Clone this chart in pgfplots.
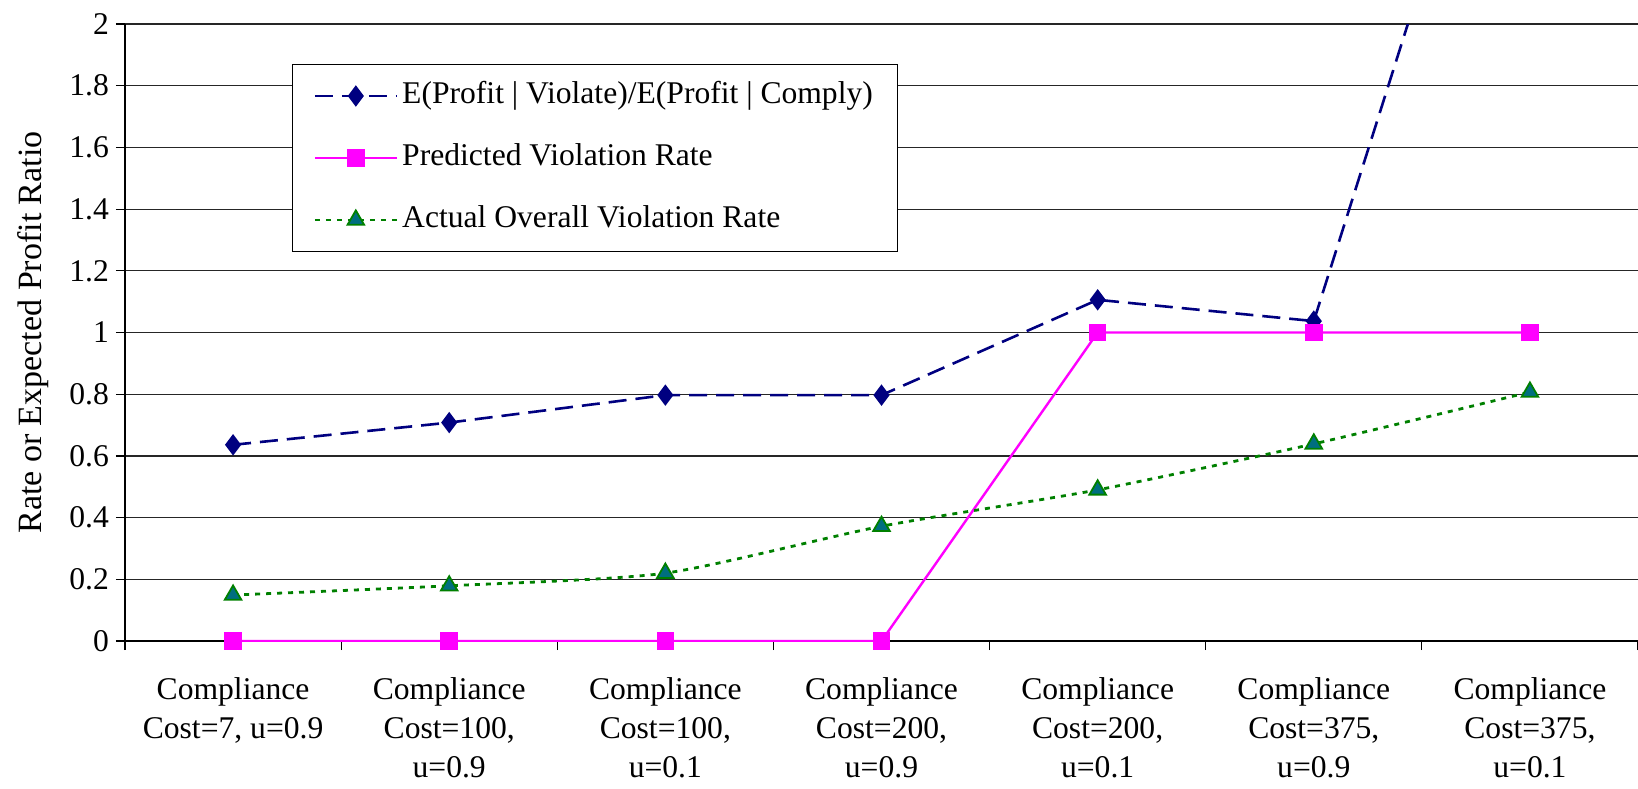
\documentclass[border=0pt]{standalone}
\usepackage{fontspec}
\setmainfont{Liberation Serif}
\usepackage{pgfplots}
\pgfplotsset{compat=1.18}
\definecolor{navyb}{RGB}{0,0,128}
\definecolor{magentap}{RGB}{255,0,255}
\definecolor{greenl}{RGB}{0,128,0}
\definecolor{tealf}{RGB}{0,110,128}
\begin{document}
\begin{tikzpicture}
\begin{axis}[name=ax, scale only axis, width=756.5pt, height=308.5pt,
  xmin=-0.5, xmax=6.5, ymin=0, ymax=2,
  axis lines*=left, axis line style={black, line width=0.6pt},
  ytick={0,0.2,0.4,0.6,0.8,1,1.2,1.4,1.6,1.8,2},
  yticklabels={0,0.2,0.4,0.6,0.8,1,1.2,1.4,1.6,1.8,2},
  ymajorgrids, major grid style={black!85, line width=0.6pt},
  tick align=outside, major tick length=4.5pt, tick style={black, line width=0.6pt},
  xtick={-0.5,0.5,1.5,2.5,3.5,4.5,5.5,6.5}, xticklabels={},
  extra x ticks={0,1,2,3,4,5,6},
  extra x tick labels={{Compliance\\Cost=7, u=0.9},{Compliance\\Cost=100,\\u=0.9},{Compliance\\Cost=100,\\u=0.1},{Compliance\\Cost=200,\\u=0.9},{Compliance\\Cost=200,\\u=0.1},{Compliance\\Cost=375,\\u=0.9},{Compliance\\Cost=375,\\u=0.1}},
  extra x tick style={major tick length=0pt, grid=none},
  xticklabel style={align=center, font=\fontsize{15.8}{19.7}\selectfont, yshift=-14.5pt},
  yticklabel style={font=\fontsize{15.8}{19}\selectfont},
  ylabel={Rate or Expected Profit Ratio},
  ylabel style={font=\fontsize{17}{20}\selectfont, at={(axis description cs:-0.0608,0.5)}, anchor=center},
  legend style={at={(axis description cs:0.1104,0.935)}, anchor=north west, draw=black, thin,
    font=\fontsize{15.8}{19}\selectfont, row sep=12.5pt, inner xsep=10.5pt, inner ysep=6.5pt,
    nodes={inner sep=2pt, text height=11pt, text depth=3.5pt}},
  legend cell align=left,
  legend image code/.code={\draw[mark repeat=2,mark phase=2] plot coordinates {(0pt,0pt) (20.5pt,0pt) (41pt,0pt)};},
  clip mode=individual,
]
\addplot[navyb, line width=1.3pt, dash pattern=on 9pt off 4.5pt, mark=diamond*, mark size=4.3pt, mark options={solid, fill=navyb}]
  coordinates {(0,0.636) (1,0.708) (2,0.797) (3,0.797) (4,1.106) (5,1.037) (6,3.25)};
\addlegendentry{E(Profit | Violate)/E(Profit | Comply)}
\addplot[magentap, line width=1.2pt, mark=square*, mark size=3.8pt, mark options={solid, fill=magentap}]
  coordinates {(0,0) (1,0) (2,0) (3,0) (4,1) (5,1) (6,1)};
\addlegendentry{Predicted Violation Rate}
\addplot[greenl, line width=1.4pt, dash pattern=on 2.5pt off 3pt, smooth, tension=0.4, mark=triangle*, mark size=4.8pt, mark options={solid, fill=tealf, draw=greenl, line width=0.9pt}]
  coordinates {(0,0.149) (1,0.179) (2,0.22) (3,0.372) (4,0.49) (5,0.639) (6,0.807)};
\addlegendentry{Actual Overall Violation Rate}
\end{axis}
\pgfresetboundingbox
\path (ax.south west) ++(-62.5pt,-73.5pt) coordinate (a);
\path (ax.north east) ++(0pt,12pt) coordinate (b);
\path[use as bounding box] (a) rectangle (b);
\end{tikzpicture}
\end{document}
